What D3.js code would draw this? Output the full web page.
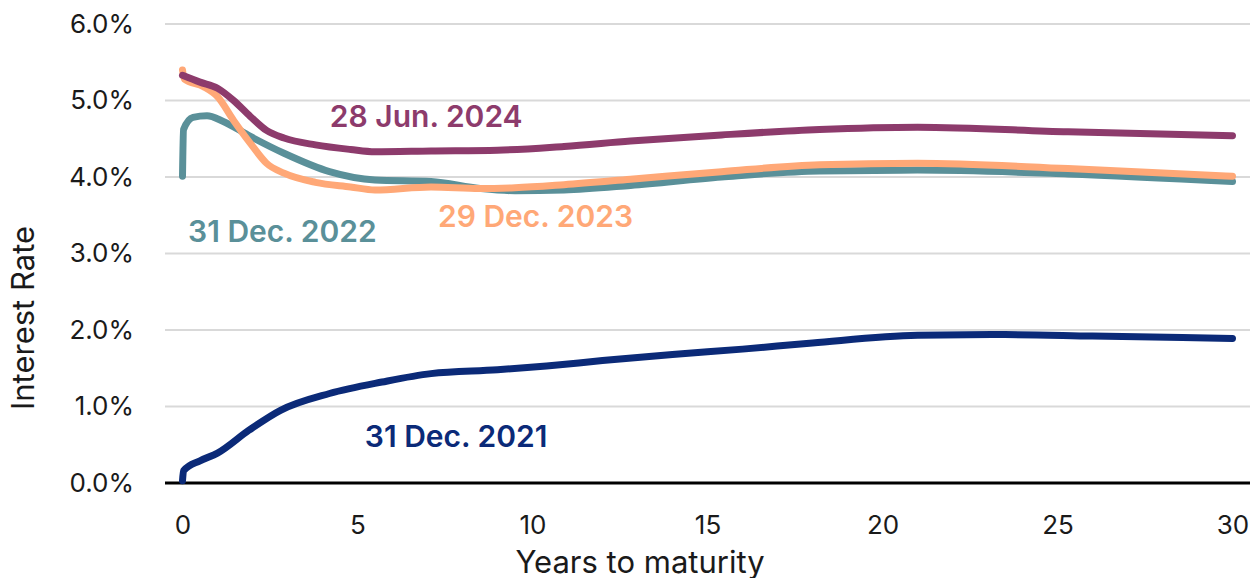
<!DOCTYPE html>
<html>
<head>
<meta charset="utf-8">
<script src="https://cdn.jsdelivr.net/npm/d3@7"></script>
<style>
  html, body { margin: 0; padding: 0; background: #ffffff; }
  svg { display: block; }
  text { font-family: "Inter", "Open Sans", sans-serif; }
</style>
</head>
<body>
<svg id="chart" width="1253" height="578"></svg>
<script>
// Yield curves: years to maturity vs. interest rate (%)
const maturities2021 = [0, 0.03, 0.5, 1, 1.9, 2.8, 4.2, 5.7, 7.1, 9, 10.4, 12, 14, 16, 18, 21, 23.5, 26, 30];
const rates2021      = [0.03, 0.16, 0.29, 0.39, 0.69, 0.95, 1.17, 1.32, 1.43, 1.48, 1.53, 1.60, 1.68, 1.75, 1.83, 1.93, 1.94, 1.92, 1.89];

const maturities2022 = [0, 0.03, 0.3, 0.7, 1.15, 1.94, 2.9, 4.2, 5.5, 7.1, 8.5, 9.5, 10.9, 12.8, 15.4, 18.2, 21, 25.3, 30];
const rates2022      = [4.01, 4.62, 4.78, 4.80, 4.73, 4.53, 4.31, 4.07, 3.96, 3.94, 3.85, 3.82, 3.83, 3.89, 4.00, 4.08, 4.09, 4.04, 3.94];

const maturities2023 = [0, 0.05, 0.6, 1, 1.46, 1.94, 2.4, 2.9, 3.8, 4.8, 5.5, 7.1, 8.5, 9.5, 10.9, 12.8, 15.4, 18.2, 21, 25.3, 30];
const rates2023      = [5.40, 5.28, 5.18, 5.05, 4.74, 4.44, 4.18, 4.05, 3.93, 3.87, 3.83, 3.87, 3.85, 3.86, 3.90, 3.97, 4.07, 4.16, 4.18, 4.11, 4.01];

const maturities2024 = [0, 0.5, 1, 1.46, 1.94, 2.4, 2.9, 3.8, 4.8, 5.5, 7.1, 9, 10.9, 12.8, 15.4, 18.2, 21, 25.3, 30];
const rates2024      = [5.33, 5.24, 5.16, 5.00, 4.79, 4.61, 4.51, 4.42, 4.36, 4.33, 4.34, 4.35, 4.40, 4.47, 4.55, 4.62, 4.65, 4.59, 4.54];

const seriesNames = ["31 Dec. 2021", "31 Dec. 2022", "29 Dec. 2023", "28 Jun. 2024"];
const xTickValues = [0, 5, 10, 15, 20, 25, 30];
const yTickValues = [0, 1, 2, 3, 4, 5, 6];

const series = [
  { name: seriesNames[0], m: maturities2021, r: rates2021, color: "#0b2a78", label: [5.21, 0.47] },
  { name: seriesNames[1], m: maturities2022, r: rates2022, color: "#5a9099", label: [0.16, 3.15] },
  { name: seriesNames[2], m: maturities2023, r: rates2023, color: "#ffa877", label: [7.3, 3.35] },
  { name: seriesNames[3], m: maturities2024, r: rates2024, color: "#8d3b6c", label: [4.21, 4.65] }
];

const svg = d3.select("#chart");
const x = d3.scaleLinear().domain([-0.5, 30.5]).range([165, 1250]);
const y = d3.scaleLinear().domain([0, 6]).range([483, 24]);

// horizontal gridlines
svg.append("g")
  .selectAll("line")
  .data(yTickValues.filter(v => v > 0))
  .join("line")
  .attr("x1", x.range()[0]).attr("x2", x.range()[1])
  .attr("y1", d => y(d)).attr("y2", d => y(d))
  .attr("stroke", "#d9d9d9").attr("stroke-width", 2);

// y axis labels
const yAxis = d3.axisLeft(y).tickValues(yTickValues).tickSize(0).tickPadding(0)
  .tickFormat(d => d3.format(".1f")(d) + "%");
svg.append("g")
  .attr("transform", "translate(134,0)")
  .call(yAxis)
  .call(g => g.select(".domain").remove())
  .call(g => g.selectAll("text").attr("font-size", 26).attr("fill", "#1a1a1a")
    .style("font-family", "Inter, sans-serif"));

// x axis
const xAxis = d3.axisBottom(x).tickValues(xTickValues).tickSize(0).tickPadding(0);
svg.append("g")
  .attr("transform", "translate(0,483)")
  .call(xAxis)
  .call(g => g.select(".domain").remove())
  .call(g => g.selectAll("text").attr("font-size", 26).attr("fill", "#1a1a1a")
    .attr("dy", null).attr("y", 51)
    .style("font-family", "Inter, sans-serif"));

// baseline
svg.append("line")
  .attr("x1", x.range()[0]).attr("x2", x.range()[1])
  .attr("y1", y(0)).attr("y2", y(0))
  .attr("stroke", "#000").attr("stroke-width", 3);

// axis titles
svg.append("text")
  .attr("transform", "translate(34,318) rotate(-90)")
  .attr("text-anchor", "middle")
  .attr("font-size", 31).attr("fill", "#1a1a1a")
  .text("Interest Rate");

svg.append("text")
  .attr("x", 640).attr("y", 573)
  .attr("text-anchor", "middle")
  .attr("font-size", 31).attr("fill", "#1a1a1a")
  .text("Years to maturity");

// curves
const line = d3.line()
  .x(d => x(d[0]))
  .y(d => y(d[1]))
  .curve(d3.curveMonotoneX);

svg.append("g")
  .selectAll("path")
  .data(series)
  .join("path")
  .attr("d", s => line(s.m.map((v, i) => [v, s.r[i]])))
  .attr("fill", "none")
  .attr("stroke", s => s.color)
  .attr("stroke-width", 7)
  .attr("stroke-linecap", "round")
  .attr("stroke-linejoin", "round");

// series labels
svg.append("g")
  .selectAll("text")
  .data(series)
  .join("text")
  .attr("x", s => x(s.label[0]))
  .attr("y", s => y(s.label[1]))
  .attr("font-size", 30)
  .attr("font-weight", 600)
  .attr("fill", s => s.color)
  .text(s => s.name);
</script>
</body>
</html>
